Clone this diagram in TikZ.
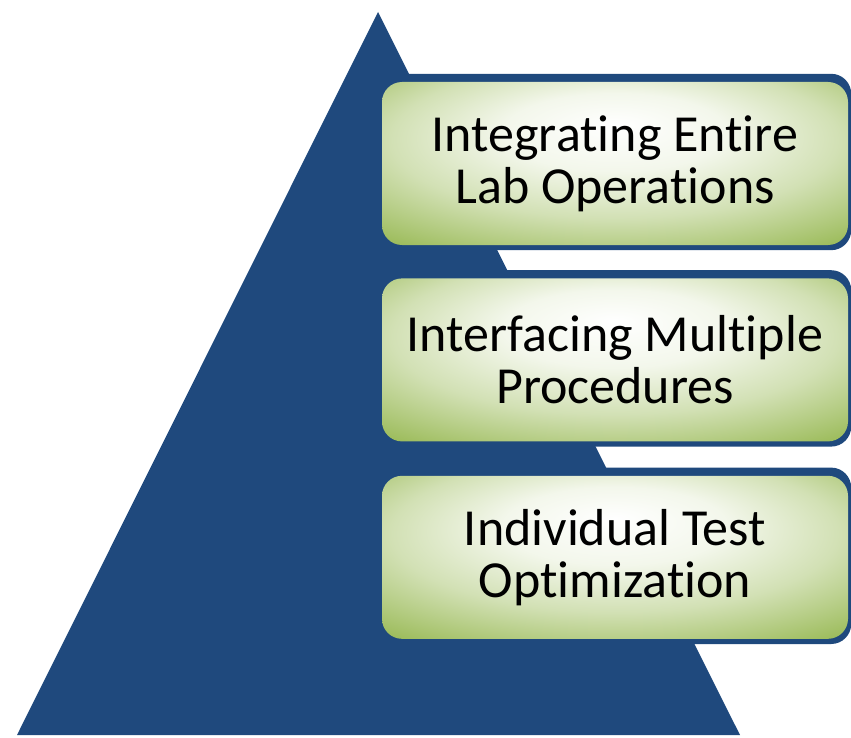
\documentclass[tikz,border=0pt]{standalone}
\usepackage{fontspec}
\setmainfont[Ligatures=NoCommon]{Carlito}
\usepackage{xcolor}
\usepackage{tikz}
\usetikzlibrary{backgrounds}
\usetikzlibrary{positioning}
\definecolor{blau}{RGB}{31,73,125}
\definecolor{gruen}{RGB}{155,187,89}
\pgfdeclareradialshading{gruenlich}{\pgfpoint{0bp}{12bp}}%
  {color(0bp)=(white); color(12bp)=(white!88!gruen); color(24bp)=(white!55!gruen); color(38bp)=(gruen); color(60bp)=(gruen)}
\tikzset{
  Kasten/.style={shading=gruenlich, rounded corners=20pt, inner sep=0pt,
    minimum width=466pt, minimum height=163pt, align=center,
    font=\fontsize{52}{52}\selectfont}, % für die Stufen
  Band/.style={fill=blau, rounded corners=20pt} % blauer Rand hinter den Stufen
}
\begin{document}
\begin{tikzpicture}[x=1pt,y=-1pt]
\useasboundingbox (0,0) rectangle (851,738);

%Stufen
\node[Kasten] (Stufe1) at (615,163.5) {Integrating Entire\\Lab Operations};
\node[Kasten, below=33pt of Stufe1] (Stufe2) {Interfacing Multiple\\Procedures};
\node[Kasten, below=34pt of Stufe2] (Stufe3) {Individual Test\\Optimization};

\begin{scope}[on background layer]
%Pyramide
\coordinate (Spitze) at (378,12);
\coordinate (LinksUnten) at (17,735);
\coordinate (RechtsUnten) at (740,735);
\fill[blau] (Spitze) -- (RechtsUnten) -- (LinksUnten) -- cycle;

%blaue Bänder
\foreach \s in {1,2,3}
  \fill[Band] ([xshift=-2pt,yshift=8pt]Stufe\s.north west)
    rectangle ([xshift=3pt,yshift=-5pt]Stufe\s.south east);
\end{scope}

\end{tikzpicture}
\end{document}
